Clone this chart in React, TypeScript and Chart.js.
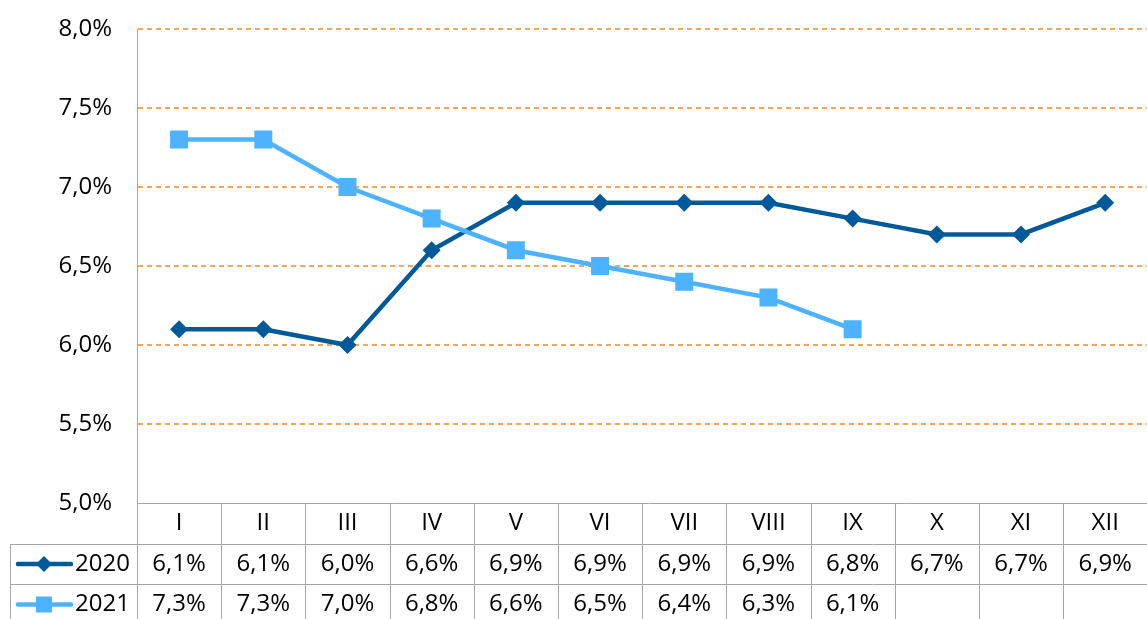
import React, { useEffect, useRef } from "react";
import { Chart, registerables } from "chart.js";

Chart.register(...registerables);

const months = ["I", "II", "III", "IV", "V", "VI", "VII", "VIII", "IX", "X", "XI", "XII"];
const seriesNames = ["2020", "2021"];
const values2020: (number | null)[] = [6.1, 6.1, 6.0, 6.6, 6.9, 6.9, 6.9, 6.9, 6.8, 6.7, 6.7, 6.9];
const values2021: (number | null)[] = [7.3, 7.3, 7.0, 6.8, 6.6, 6.5, 6.4, 6.3, 6.1, null, null, null];
const yTicks = [5.0, 5.5, 6.0, 6.5, 7.0, 7.5, 8.0];

const DARK = "#005a9a";
const LIGHT = "#4db2ff";
const GRID = "#f4a65c";
const TABLE_LINE = "#a6a6a6";
const FONT = "'Open Sans', sans-serif";

const fmt = (v: number) => v.toFixed(1).replace(".", ",") + "%";

const W = 1160;
const H = 619;

const tablePlugin = {
  id: "dataTable",
  afterDraw(chart: any) {
    const { ctx, chartArea } = chart;
    const x = chart.scales.x;
    const left = chartArea.left;
    const right = chartArea.right;
    const bottom = chartArea.bottom;
    const colW = (right - left) / months.length;
    const rowH = 40.6;
    const crisp = (v: number) => Math.round(v) + 0.5;
    ctx.save();
    ctx.strokeStyle = TABLE_LINE;
    ctx.lineWidth = 1;
    ctx.setLineDash([]);
    ctx.beginPath();
    ctx.moveTo(left, crisp(bottom));
    ctx.lineTo(W, crisp(bottom));
    for (let r = 1; r <= 2; r++) {
      const y = crisp(bottom + rowH * r);
      ctx.moveTo(10, y);
      ctx.lineTo(W, y);
    }
    ctx.moveTo(crisp(left), chartArea.top);
    ctx.lineTo(crisp(left), H);
    ctx.moveTo(10.5, crisp(bottom + rowH));
    ctx.lineTo(10.5, H);
    for (let k = 1; k <= months.length; k++) {
      const xx = crisp(left + colW * k);
      ctx.moveTo(xx, bottom);
      ctx.lineTo(xx, H);
    }
    ctx.stroke();

    ctx.fillStyle = "#000";
    ctx.font = `24px ${FONT}`;
    ctx.textAlign = "center";
    ctx.textBaseline = "middle";
    months.forEach((m, i) => {
      const cx = x.getPixelForValue(i);
      ctx.fillText(m, cx, bottom + rowH * 0.5);
    });
    const rows = [values2020, values2021];
    rows.forEach((vals, r) => {
      const cy = bottom + rowH * (r + 1.5);
      vals.forEach((v, i) => {
        if (v == null) return;
        ctx.fillText(fmt(v), x.getPixelForValue(i), cy);
      });
    });
    const colors = [DARK, LIGHT];
    rows.forEach((_, r) => {
      const cy = bottom + rowH * (r + 1.5);
      ctx.strokeStyle = colors[r];
      ctx.fillStyle = colors[r];
      ctx.lineWidth = 4.5;
      ctx.lineCap = "round";
      ctx.beginPath();
      ctx.moveTo(18, cy);
      ctx.lineTo(71, cy);
      ctx.stroke();
      const mx = 44;
      ctx.beginPath();
      if (r === 0) {
        const s = 8;
        ctx.moveTo(mx, cy - s);
        ctx.lineTo(mx + s, cy);
        ctx.lineTo(mx, cy + s);
        ctx.lineTo(mx - s, cy);
        ctx.closePath();
      } else {
        ctx.rect(mx - 8, cy - 8, 16, 16);
      }
      ctx.fill();
      ctx.fillStyle = "#000";
      ctx.textAlign = "left";
      ctx.fillText(seriesNames[r], 75, cy);
      ctx.textAlign = "center";
    });
    ctx.restore();
  },
};

export default function App() {
  const ref = useRef<HTMLCanvasElement | null>(null);
  useEffect(() => {
    if (!ref.current) return;
    const chart = new Chart(ref.current, {
      type: "line",
      data: {
        labels: months,
        datasets: [
          {
            label: seriesNames[0],
            data: values2020,
            borderColor: DARK,
            backgroundColor: DARK,
            borderWidth: 4.5,
            pointStyle: "rectRot",
            pointRadius: 9,
            pointBorderWidth: 0,
            pointBackgroundColor: DARK,
            tension: 0,
            order: 1,
          },
          {
            label: seriesNames[1],
            data: values2021,
            borderColor: LIGHT,
            backgroundColor: LIGHT,
            borderWidth: 4.5,
            pointStyle: "rect",
            pointRadius: 12.7,
            pointBorderWidth: 0,
            pointBackgroundColor: LIGHT,
            tension: 0,
            order: 0,
          },
        ],
      },
      options: {
        animation: false,
        responsive: false,
        maintainAspectRatio: false,
        layout: { padding: { top: 29, bottom: 116, left: 0, right: 0 } },
        plugins: { legend: { display: false }, tooltip: { enabled: false } },
        scales: {
          x: {
            type: "category",
            display: false,
            offset: true,
          },
          y: {
            min: 5,
            max: 8,
            afterFit: (scale: any) => {
              scale.width = 137;
              scale.paddingTop = 0;
              scale.paddingBottom = 0;
            },
            afterBuildTicks: (scale: any) => {
              scale.ticks = yTicks.map((v) => ({ value: v }));
            },
            ticks: {
              padding: 25,
              color: "#000",
              font: { family: FONT, size: 24 },
              callback: (v: any) => fmt(Number(v)),
            },
            grid: {
              drawTicks: false,
              color: (c: any) => (c.tick && c.tick.value === 5 ? "rgba(0,0,0,0)" : GRID),
              lineWidth: 2,
            },
            border: { display: true, color: TABLE_LINE, width: 1, dash: [5, 4] },
          },
        },
      },
      plugins: [tablePlugin],
    });
    return () => chart.destroy();
  }, []);
  return (
    <div style={{ position: "fixed", left: 0, top: 0, width: 1147, height: H, overflow: "hidden", background: "#fff" }}>
      <canvas ref={ref} width={W} height={H} style={{ width: W, height: H, display: "block" }} />
    </div>
  );
}
